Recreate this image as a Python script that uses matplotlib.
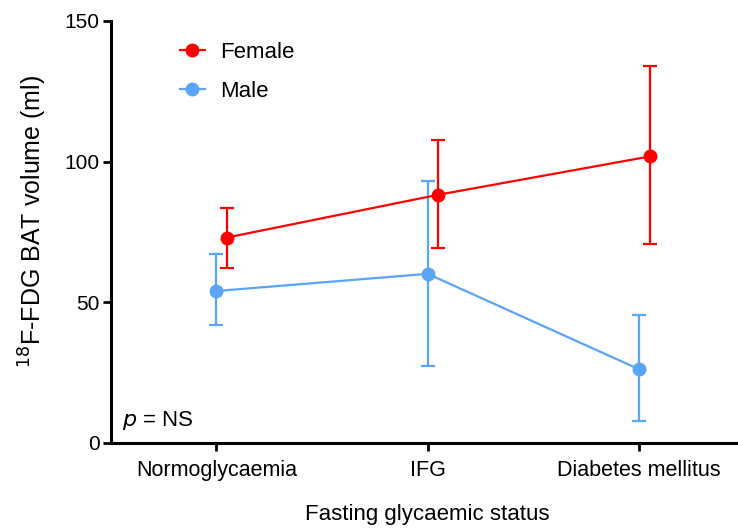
import matplotlib.pyplot as plt
import numpy as np

plt.rcParams['font.family'] = ['Liberation Sans', 'DejaVu Sans']

groups = ['Normoglycaemia', 'IFG', 'Diabetes mellitus']

female_mean = [73.0, 88.2, 101.8]
female_upper = [83.6, 107.6, 134.0]
female_lower = [62.2, 69.2, 70.6]

male_mean = [54.0, 60.1, 26.2]
male_upper = [67.1, 93.1, 45.4]
male_lower = [42.1, 27.4, 7.8]

red = '#FF0000'
blue = '#5AA5F8'

fig = plt.figure(figsize=(7.38, 5.29), dpi=100)
ax = fig.add_axes([0.150, 0.1626, 0.859, 0.798])

x = np.arange(len(groups))

def draw(xpos, mean, lower, upper, color, label):
    mean = np.array(mean)
    err = [mean - np.array(lower), np.array(upper) - mean]
    ax.errorbar(xpos, mean, yerr=err, color=color, marker='o', markersize=9,
                linewidth=1.6, elinewidth=1.6, capsize=5, capthick=1.6,
                label=label, clip_on=False, zorder=3)

draw(x + 0.05, female_mean, female_lower, female_upper, red, 'Female')
draw(x, male_mean, male_lower, male_upper, blue, 'Male')

ax.set_xlim(-0.5, 2.5)
ax.set_ylim(0, 150)
ax.set_yticks([0, 50, 100, 150])
ax.set_xticks(x)
ax.set_xticklabels(groups)

for s in ['top', 'right']:
    ax.spines[s].set_visible(False)
for s in ['left', 'bottom']:
    ax.spines[s].set_linewidth(2.2)
ax.tick_params(axis='both', width=2.0, length=6, pad=2)
ax.tick_params(axis='y', labelsize=15)
ax.tick_params(axis='x', labelsize=15.5, pad=6)

ax.set_ylabel('$^{18}$F-FDG BAT volume (ml)', fontsize=18)
ax.yaxis.set_label_coords(-0.097, 0.525)
ax.set_xlabel('Fasting glycaemic status', fontsize=16, labelpad=17)

# legend shows line + marker only, no error bars
handles = [plt.Line2D([], [], color=red, marker='o', markersize=9, linewidth=1.6),
           plt.Line2D([], [], color=blue, marker='o', markersize=9, linewidth=1.6)]
ax.legend(handles, ['Female', 'Male'], loc='upper left', bbox_to_anchor=(0.077, 0.997),
          frameon=False, fontsize=16, handlelength=1.15, handletextpad=0.7,
          labelspacing=0.8)

ax.text(0.018, 0.053, '$p$ = NS', transform=ax.transAxes, fontsize=16,
        ha='left', va='center')

fig.savefig('out.png', dpi=100)
